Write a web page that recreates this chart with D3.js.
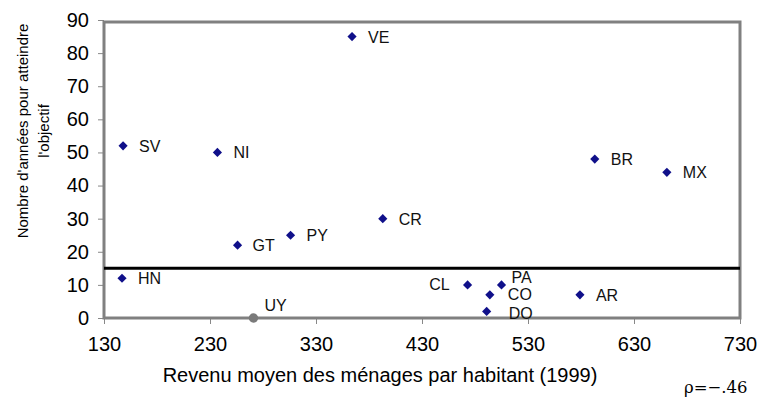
<!DOCTYPE html>
<html>
<head>
<meta charset="utf-8">
<script src="https://cdn.jsdelivr.net/npm/d3@7"></script>
<style>
  body { margin: 0; background: #fff; }
  text { font-family: Arial, "Liberation Sans", sans-serif; }
  text.rho { font-family: "DejaVu Serif", "Liberation Serif", "Times New Roman", serif; }
</style>
</head>
<body>
<div id="chart"></div>
<script>
// data
var countries = ["SV", "NI", "VE", "BR", "MX", "CR", "PY", "GT", "HN", "UY", "CL", "PA", "CO", "DO", "AR"];
var revenu    = [148, 237, 364, 593, 661, 393, 306, 256, 147, 271, 473, 505, 494, 491, 579];
var annees    = [52, 50, 85, 48, 44, 30, 25, 22, 12, 0, 10, 10, 7, 2, 7];
var xTicks = [130, 230, 330, 430, 530, 630, 730];
var yTicks = [0, 10, 20, 30, 40, 50, 60, 70, 80, 90];
var objectif = 15;

// label placement (dx, dy, anchor) per country
var labelPos = {
  CL: [-18, 5, "end"], PA: [10, -2, "start"], CO: [18, 5, "start"],
  DO: [22, 8, "start"], UY: [11, -7, "start"], GT: [15, 6, "start"]
};

var width = 759, height = 400;
var margin = { top: 20, right: 19, bottom: 82, left: 104 };

var svg = d3.select('#chart').append('svg')
  .attr('width', width)
  .attr('height', height);

var xScale = d3.scaleLinear().domain([130, 730]).range([margin.left, width - margin.right]);
var yScale = d3.scaleLinear().domain([0, 90]).range([height - margin.bottom, margin.top]);

var data = countries.map(function(c, i) {
  return { key: c, x: revenu[i], y: annees[i] };
});

// axes
var xAxis = d3.axisBottom(xScale).tickValues(xTicks).tickSize(6).tickPadding(13);
svg.append('g')
  .attr('transform', 'translate(0,' + yScale(0) + ')')
  .call(xAxis)
  .call(function(g) {
    g.select('.domain').remove();
    g.selectAll('.tick line').attr('stroke', '#888');
    g.selectAll('.tick text').attr('font-size', 20).attr('fill', '#000');
  });

var yAxis = d3.axisLeft(yScale).tickValues(yTicks).tickSize(6).tickPadding(9);
svg.append('g')
  .attr('transform', 'translate(' + xScale(130) + ',0)')
  .call(yAxis)
  .call(function(g) {
    g.select('.domain').remove();
    g.selectAll('.tick line').attr('stroke', '#888');
    g.selectAll('.tick text').attr('font-size', 20).attr('fill', '#000');
  });

// frame
svg.append('rect')
  .attr('x', xScale(130))
  .attr('y', yScale(90) + 2)
  .attr('width', xScale(730) - xScale(130))
  .attr('height', yScale(0) - yScale(90) - 2)
  .attr('fill', 'none')
  .attr('stroke', '#808080')
  .attr('stroke-width', 3);

// objective line
svg.append('line')
  .attr('x1', xScale(130))
  .attr('x2', xScale(730))
  .attr('y1', yScale(objectif))
  .attr('y2', yScale(objectif))
  .attr('stroke', '#000')
  .attr('stroke-width', 3);

// points
var plot = svg.append('g');
plot.selectAll('.dot')
  .data(data)
  .enter().append('path')
  .attr('class', 'dot')
  .attr('d', function(d) {
    return d.y === 0
      ? d3.symbol().type(d3.symbolCircle).size(70)()
      : d3.symbol().type(d3.symbolSquare).size(42)();
  })
  .attr('transform', function(d) {
    return 'translate(' + xScale(d.x) + ',' + yScale(d.y) + ') rotate(45)';
  })
  .attr('fill', function(d) { return d.y === 0 ? '#7a7a7a' : '#10108a'; });

plot.selectAll('.lbl')
  .data(data)
  .enter().append('text')
  .attr('class', 'lbl')
  .attr('x', function(d) { var p = labelPos[d.key]; return xScale(d.x) + (p ? p[0] : 16); })
  .attr('y', function(d) { var p = labelPos[d.key]; return yScale(d.y) + (p ? p[1] : 6); })
  .attr('text-anchor', function(d) { var p = labelPos[d.key]; return p ? p[2] : 'start'; })
  .attr('font-size', 16)
  .attr('fill', '#111')
  .text(function(d) { return d.key; });

// axis titles
svg.append('text')
  .attr('x', 380)
  .attr('y', 382)
  .attr('text-anchor', 'middle')
  .attr('font-size', 20)
  .text('Revenu moyen des ménages par habitant  (1999)');

var yTitle = svg.append('text')
  .attr('transform', 'translate(28,131) rotate(-90)')
  .attr('text-anchor', 'middle')
  .attr('font-size', 15);
yTitle.append('tspan').attr('x', 0).attr('dy', 0).text("Nombre d'années pour atteindre");
yTitle.append('tspan').attr('x', 0).attr('dy', 21).text("l'objectif");

svg.append('text')
  .attr('class', 'rho')
  .attr('x', 684)
  .attr('y', 393)
  .attr('font-size', 16.5)
  .text('ρ=−.46');
</script>
</body>
</html>
